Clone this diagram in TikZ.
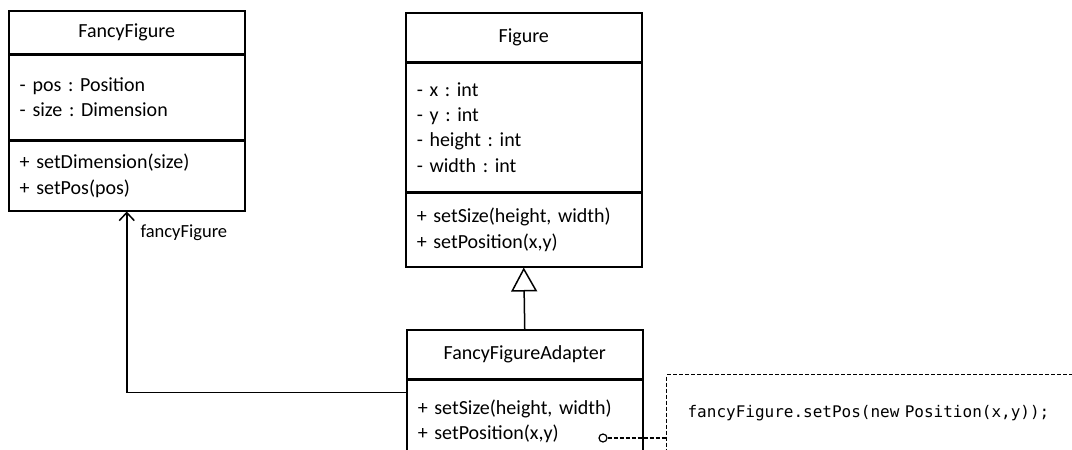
\documentclass[tikz,border=0pt]{standalone}
\usepackage{fontspec}
\setmainfont{Carlito}
\newfontfamily\codefont[WordSpace={1,0,0}]{DejaVu Sans Mono}
\usetikzlibrary{arrows.meta}
\frenchspacing

\begin{document}
\begin{tikzpicture}[x=1pt,y=-1pt,
  uml/.style={draw, line width=1.5pt, anchor=north west, inner ysep=0pt,
    font=\fontsize{20}{25.3}\selectfont},
  classname/.style={uml, minimum width=236pt, inner xsep=0pt},
  members/.style={uml, text width=214pt, inner xsep=11pt, align=left},
  assoc/.style={line width=1.5pt, -{Straight Barb[length=8pt,width=15pt,line width=1.5pt]}},
  inherit/.style={line width=1.5pt, -{Triangle[open,length=24pt,width=26pt,line width=1.5pt,fill=white]}},
  notebox/.style={draw, line width=1.2pt, dash pattern=on 4pt off 2pt, anchor=north west,
    inner xsep=21pt, inner ysep=0pt, text width=420pt, align=left,
    text height=43pt, text depth=57pt, font=\codefont\fontsize{16}{19}\selectfont},
  notelink/.style={line width=1.2pt, dash pattern=on 4pt off 2pt},
  pin/.style={circle, draw, line width=1.2pt, fill=white, minimum size=8pt, inner sep=0pt},
  rolelabel/.style={anchor=west, font=\fontsize{18.5}{22}\selectfont}
]
\useasboundingbox (0,0) rectangle (1072,450);
\clip (0,0) rectangle (1072,450);

% FancyFigure class
\node[classname, minimum height=43pt] (ff-name) at (8,10) {FancyFigure};
\node[members, minimum height=84pt] (ff-attrs) at (ff-name.south west)
  {- pos : Position\\- size : Dimension};
\node[members, minimum height=70pt] (ff-ops) at (ff-attrs.south west)
  {+ setDimension(size)\\+ setPos(pos)};

% Figure class
\node[classname, minimum height=49pt] (fig-name) at (405,12) {Figure};
\node[members, minimum height=128pt] (fig-attrs) at (fig-name.south west)
  {- x : int\\- y : int\\- height : int\\- width : int};
\node[members, minimum height=74pt] (fig-ops) at (fig-attrs.south west)
  {+ setSize(height, width)\\+ setPosition(x,y)};

% FancyFigureAdapter class
\node[classname, minimum height=49pt] (ad-name) at (406,329) {FancyFigureAdapter};
\node[members, minimum height=82pt] (ad-ops) at (ad-name.south west)
  {+ setSize(height, width)\\+ setPosition(x,y)};

% generalization
\draw[inherit] (ad-name.north) -- (fig-ops.south);

% association to the adaptee
\draw[assoc] (ad-ops.north west) ++(0,13) -| (ff-ops.south);
\node[rolelabel] (role) at (137,233) {fancyFigure};

% implementation note
\node[notebox] (note) at (666,374) {fancyFigure.setPos(new Position(x,y));};
\node[pin] (pin) at (603,438) {};
\draw[notelink] (pin) -- (pin -| note.west);
\end{tikzpicture}
\end{document}
